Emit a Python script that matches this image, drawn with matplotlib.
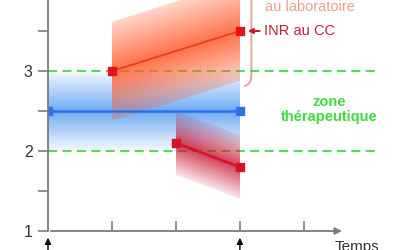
"""
INR : labo vs coagulomètre (CC), zone thérapeutique
"""

import numpy as np
import matplotlib

matplotlib.use("Agg")
from matplotlib import pyplot as plt
from matplotlib.path import Path
from matplotlib.patches import PathPatch
from matplotlib.colors import to_rgb

plt.rcParams["font.family"] = ["Liberation Sans", "DejaVu Sans"]

# données
t_labo = [0, 3]
inr_labo = [2.5, 2.5]
hw_labo = 0.5

t_cc_haut = [1, 3]
inr_cc_haut = [3.0, 3.5]
hw_cc_haut = 0.62

t_cc_bas = [2, 3]
inr_cc_bas = [2.1, 1.8]
hw_cc_bas = 0.4

zone = [2.0, 3.0]
yticks_major = [1, 2, 3]
yticks_minor = [1.5, 2.5, 3.5]
xticks = [1, 2, 3, 4]

GRIS = "#7a7a7a"
VERT = "#3ddc3d"


def bande(ax, t, v, hw, couleur, a_bord, a_pic, z):
    """bande en dégradé autour d'un segment"""
    x0, x1 = t
    y0 = min(v) - hw
    y1 = max(v) + hw
    nx, ny = 200, 300
    xs = np.linspace(x0, x1, nx)
    ys = np.linspace(y0, y1, ny)
    X, Y = np.meshgrid(xs, ys)
    centre = v[0] + (v[1] - v[0]) * (X - x0) / (x1 - x0)
    d = np.abs(Y - centre) / hw
    alpha = np.where(d <= 1, a_bord + (a_pic - a_bord) * (1 - d), 0.0)
    img = np.zeros((ny, nx, 4))
    img[..., :3] = to_rgb(couleur)
    img[..., 3] = alpha
    ax.imshow(
        img,
        extent=(x0, x1, y0, y1),
        origin="lower",
        aspect="auto",
        interpolation="bilinear",
        zorder=z,
    )


fig = plt.figure(figsize=(4, 2.5), dpi=100)
ax = fig.add_axes([0.12, 0.076, 0.8475, 0.924])
ax.set_xlim(0, 5.3)
ax.set_ylim(1, 3.8875)
for s in ax.spines.values():
    s.set_visible(False)

# zone thérapeutique
for z in zone:
    ax.plot([0, 5.14], [z, z], color=VERT, lw=1.3, ls=(0, (5, 3)), zorder=2)

# bandes
bande(ax, t_labo, inr_labo, hw_labo, "#3d8ff0", 0.05, 0.75, 1)
bande(ax, t_cc_haut, inr_cc_haut, hw_cc_haut, "#ff5a2a", 0.25, 0.85, 3)
bande(ax, t_cc_bas, inr_cc_bas, hw_cc_bas, "#c8102e", 0.1, 0.8, 3)

# courbes
ax.plot(t_labo, inr_labo, color="#2a72ec", lw=1.8, marker="s", ms=6, zorder=5)
ax.plot(t_cc_haut, inr_cc_haut, color="#e84020", lw=1.3, zorder=5)
ax.plot(t_cc_haut, inr_cc_haut, ls="none", color="#e8101a", marker="s", ms=6, zorder=6)
ax.plot(t_cc_bas, inr_cc_bas, color="#d8102a", lw=1.8, marker="s", ms=6, zorder=5)

# axes
ax.plot([0, 0], [1, 3.9], color=GRIS, lw=1.3, zorder=7, clip_on=False)
ax.annotate(
    "",
    xy=(4.64, 1),
    xytext=(0, 1),
    arrowprops=dict(arrowstyle="-|>", color=GRIS, lw=1.3, mutation_scale=10),
    annotation_clip=False,
    zorder=7,
)
ax.set_yticks(yticks_major)
ax.set_yticklabels([str(v) for v in yticks_major])
ax.set_yticks(yticks_minor, minor=True)
ax.tick_params(axis="y", which="both", length=7, width=1.2, color=GRIS,
               labelsize=11.5, labelcolor="#333333", pad=4)
ax.set_xticks(xticks)
ax.set_xticklabels([])
ax.tick_params(axis="x", direction="in", length=7, width=1.2, color=GRIS)
ax.text(4.48, 0.89, "Temps", fontsize=11, color="#333333", va="top",
        clip_on=False)

# flèches du bas
for xa in [0, 3]:
    ax.annotate(
        "",
        xy=(xa, 0.95),
        xytext=(xa, 0.7),
        arrowprops=dict(arrowstyle="-|>", color="black", lw=1.0, mutation_scale=9),
        annotation_clip=False,
    )

# textes
ax.text(4.39, 2.52, "zone\nthérapeutique", ha="center", va="center",
        fontsize=10.5, fontweight="bold", color=VERT, linespacing=1.1)
ax.text(3.375, 3.5, "INR au CC", va="center", fontsize=10.5, color="#c0203a")
ax.annotate(
    "",
    xy=(3.08, 3.5),
    xytext=(3.35, 3.5),
    arrowprops=dict(arrowstyle="-|>", color="#c0203a", lw=1.5, mutation_scale=7),
)
ax.text(3.39, 3.8, "au laboratoire", va="center", fontsize=10.5,
        color="#e8a08e", clip_on=False)

# accolade
verts = [(3.18, 4.0), (3.18, 2.95), (3.18, 2.85), (3.13, 2.83), (3.07, 2.81)]
codes = [Path.MOVETO, Path.LINETO, Path.CURVE4, Path.CURVE4, Path.CURVE4]
ax.add_patch(PathPatch(Path(verts, codes), fill=False, edgecolor="#e0a090",
                       lw=1.3, clip_on=False))

fig.savefig("out.png", dpi=100, facecolor="white")
